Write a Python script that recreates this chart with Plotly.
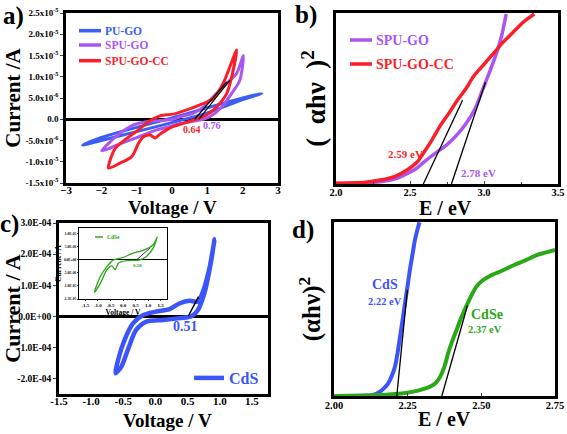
import plotly.graph_objects as go

W, H = 567, 434
FONT = "Liberation Serif, Times New Roman, Times, serif"

# ---------------- data ----------------
# Panel a (current in 1e-6 A)
pu_go_v = [-2.53, -2.0, -1.0, 0.0, 1.0, 2.0, 2.54, 2.0, 1.0, 0.0, -1.0, -2.0, -2.53]
pu_go_i = [-6.1, -5.0, -2.9, -0.8, 1.5, 4.6, 6.1, 5.0, 2.7, 0.3, -1.9, -4.3, -6.1]

spu_go_v = [-1.99, -1.85, -1.57, -1.19, -0.81, -0.43, -0.06, 0.23, 0.79, 1.07, 1.41, 1.69, 1.92, 2.02,
            1.83, 1.55, 1.26, 0.89, 0.60, 0.23, 0.04, -0.34, -0.72, -1.09, -1.47, -1.75, -1.99]
spu_go_i = [-7.4, -7.1, -6.1, -4.9, -3.7, -2.5, -1.7, -1.0, -0.2, 0.6, 2.9, 6.1, 9.2, 15.0,
            10.8, 8.5, 6.1, 2.9, 1.4, 0.6, 0.0, -0.3, -0.6, -1.35, -3.3, -5.3, -7.4]

spu_go_cc_v = [-1.80, -1.47, -1.14, -0.95, -0.81, -0.62, -0.48, -0.34, -0.15, 0.04, 0.17, 0.60, 0.98,
               1.26, 1.55, 1.69, 1.83, 1.64, 1.45, 1.17, 0.79, 0.42, 0.04, -0.34, -0.67, -0.95,
               -1.28, -1.61, -1.75, -1.80]
spu_go_cc_i = [-11.5, -10.3, -8.8, -5.7, -4.1, -3.7, -4.4, -3.5, -2.5, -1.7, -1.35, -0.2, 1.0,
               2.9, 6.1, 10.0, 16.3, 12.4, 8.5, 4.9, 3.4, 2.2, 1.2, 0.8, -0.6, -2.5,
               -4.5, -6.9, -9.6, -11.5]

tan_a_cc_v, tan_a_cc_i = [0.64, 1.55], [0.0, 8.8]
tan_a_go_v, tan_a_go_i = [0.76, 1.64], [0.0, 9.2]

a_yticks = [2.5e-5, 2.0e-5, 1.5e-5, 1.0e-5, 5.0e-6, 0.0, -5.0e-6, -1.0e-5, -1.5e-5]
a_yticktext = ["2.5x10<sup>-5</sup>", "2.0x10<sup>-5</sup>", "1.5x10<sup>-5</sup>", "1.0x10<sup>-5</sup>",
               "5.0x10<sup>-6</sup>", "0.0", "-5.0x10<sup>-6</sup>", "-1.0x10<sup>-5</sup>",
               "-1.5x10<sup>-5</sup>"]

# Panel b (arbitrary units)
b_go_e = [2.0, 2.2, 2.3, 2.4, 2.48, 2.55, 2.61, 2.68, 2.75, 2.82, 2.88, 2.94, 2.99, 3.04, 3.09, 3.12, 3.15]
b_go_y = [0.003, 0.008, 0.013, 0.03, 0.06, 0.095, 0.14, 0.185, 0.23, 0.29, 0.355, 0.44, 0.55, 0.66,
          0.78, 0.87, 0.994]
b_cc_e = [2.0, 2.2, 2.3, 2.4, 2.48, 2.55, 2.59, 2.65, 2.70, 2.76, 2.82, 2.88, 2.93, 3.0, 3.06, 3.13,
          3.2, 3.27, 3.34]
b_cc_y = [0.004, 0.01, 0.023, 0.045, 0.082, 0.13, 0.18, 0.26, 0.335, 0.41, 0.49, 0.56, 0.63, 0.70,
          0.76, 0.83, 0.89, 0.95, 0.994]
tan_b_cc_e, tan_b_cc_y = [2.59, 2.855], [0.0, 0.49]
tan_b_go_e, tan_b_go_y = [2.78, 3.01], [0.0, 0.595]

# Panel c (current in 1e-4 A)
cds_v = [-0.62, -0.53, -0.43, -0.30, -0.14, 0.12, 0.38, 0.56, 0.66, 0.76, 0.84, 0.92,
         0.84, 0.74, 0.66, 0.53, 0.38, 0.22, 0.01, -0.19, -0.35, -0.48, -0.58, -0.62]
cds_i = [-1.83, -1.62, -1.08, -0.44, -0.17, -0.12, -0.06, 0.0, 0.2, 0.74, 1.49, 2.48,
         1.55, 0.80, 0.47, 0.50, 0.42, 0.23, 0.15, 0.04, -0.23, -0.76, -1.4, -1.83]
tan_c_v, tan_c_i = [0.51, 0.67], [0.0, 0.63]
c_yticks = [3e-4, 2e-4, 1e-4, 0.0, -1e-4, -2e-4]
c_yticktext = ["3.0E-04", "2.0E-04", "1.0E-04", "0.0E+00", "-1.0E-04", "-2.0E-04"]

# Inset (current in 1e-6 A)
cdse_v = [-1.14, -0.9, -0.64, -0.38, -0.11, 0.02, 0.41, 0.80, 1.2, 1.36,
          1.2, 0.93, 0.67, 0.14, -0.19, -0.31, -0.44, -0.64, -0.9, -1.14]
cdse_i = [-12.5, -6.4, -2.6, 0.0, 0.64, 1.0, 2.6, 3.6, 5.8, 8.7,
          4.5, 1.3, 0.0, -0.3, -1.3, -3.8, -2.3, -3.8, -9.0, -12.5]
tan_in_v, tan_in_i = [0.54, 1.07], [0.0, 4.5]
in_yticks = [1.0e-5, 5.0e-6, 0.0, -5.0e-6, -1.0e-5, -1.5e-5]
in_yticktext = ["1.0E-05", "5.0E-06", "0.0E+00", "-5.0E-06", "-1.0E-05", "-1.5E-05"]

# Panel d (arbitrary units)
d_cds_e = [2.0, 2.1, 2.133, 2.156, 2.17, 2.184, 2.196, 2.207, 2.216, 2.224, 2.233, 2.241, 2.25,
           2.258, 2.267, 2.275, 2.283, 2.29]
d_cds_y = [0.0, 0.002, 0.006, 0.025, 0.045, 0.073, 0.115, 0.17, 0.25, 0.34, 0.44, 0.535, 0.635,
           0.73, 0.82, 0.9, 0.955, 0.998]
d_cdse_e = [2.0, 2.1, 2.156, 2.22, 2.269, 2.30, 2.326, 2.345, 2.36, 2.375, 2.388, 2.40, 2.416,
            2.433, 2.45, 2.467, 2.484, 2.505, 2.529, 2.57, 2.608, 2.65, 2.688, 2.72, 2.75]
d_cdse_y = [0.0, 0.003, 0.006, 0.013, 0.025, 0.038, 0.054, 0.075, 0.11, 0.17, 0.25, 0.31, 0.38,
            0.455, 0.52, 0.58, 0.63, 0.665, 0.69, 0.72, 0.75, 0.78, 0.81, 0.825, 0.84]
tan_d_cds_e, tan_d_cds_y = [2.213, 2.249], [0.0, 0.61]
tan_d_cdse_e, tan_d_cdse_y = [2.366, 2.453], [0.0, 0.52]

# ---------------- colours ----------------
BLUE = "#3a5ff2"
PURPLE = "#aa55f2"
RED = "#fa1e28"
GREEN = "#2aa818"
CBLUE = "#3c55fa"

def px2x(p):
    return p / W

def py2y(p):
    return 1 - p / H

fig = go.Figure()

def curve(x, y, color, width, name=None, xa="x", ya="y", legend=None, spline=True):
    fig.add_trace(go.Scatter(
        x=x, y=y, mode="lines", name=name,
        line=dict(color=color, width=width, shape="spline" if spline else "linear", smoothing=0.8),
        xaxis=xa, yaxis=ya, showlegend=legend is not None,
        legend=legend if legend else "legend", hoverinfo="skip"))

# panel a
curve(pu_go_v, [v * 1e-6 for v in pu_go_i], BLUE, 3, "PU-GO", "x", "y")
curve(spu_go_v, [v * 1e-6 for v in spu_go_i], PURPLE, 3, "SPU-GO", "x", "y")
curve(spu_go_cc_v, [v * 1e-6 for v in spu_go_cc_i], RED, 3, "SPU-GO-CC", "x", "y")
curve(tan_a_cc_v, [v * 1e-6 for v in tan_a_cc_i], "black", 1.2, None, "x", "y", spline=False)
curve(tan_a_go_v, [v * 1e-6 for v in tan_a_go_i], "black", 1.2, None, "x", "y", spline=False)

# panel b
curve(b_go_e, b_go_y, PURPLE, 3.5, "SPU-GO", "x2", "y2")
curve(b_cc_e, b_cc_y, RED, 3.5, "SPU-GO-CC", "x2", "y2")
curve(tan_b_cc_e, tan_b_cc_y, "black", 1.3, None, "x2", "y2", spline=False)
curve(tan_b_go_e, tan_b_go_y, "black", 1.3, None, "x2", "y2", spline=False)

# panel c
curve(cds_v, [v * 1e-4 for v in cds_i], CBLUE, 4.5, "<span style='color:%s'>CdS</span>" % CBLUE,
      "x3", "y3", legend="legend")
curve(tan_c_v, [v * 1e-4 for v in tan_c_i], "black", 1.5, None, "x3", "y3", spline=False)

# inset
curve(cdse_v, [v * 1e-6 for v in cdse_i], GREEN, 1.3, "CdSe", "x5", "y5")
curve(tan_in_v, [v * 1e-6 for v in tan_in_i], "black", 0.8, None, "x5", "y5", spline=False)

# panel d
curve(d_cds_e, d_cds_y, CBLUE, 4, "CdS", "x4", "y4")
curve(d_cdse_e, d_cdse_y, GREEN, 4, "CdSe", "x4", "y4")
curve(tan_d_cds_e, tan_d_cds_y, "black", 1.3, None, "x4", "y4", spline=False)
curve(tan_d_cdse_e, tan_d_cdse_y, "black", 1.3, None, "x4", "y4", spline=False)

def tf(size):
    return dict(family=FONT, size=size, color="black", weight="bold")

box = dict(showline=True, mirror=True, linecolor="black", linewidth=2.5, showgrid=False, automargin=False)

layout = dict(
    width=W, height=H, margin=dict(l=0, r=0, t=0, b=0, autoexpand=False),
    paper_bgcolor="white", plot_bgcolor="white",
    font=dict(family=FONT, color="black"),
    hovermode=False,
    # panel a
    xaxis=dict(domain=[px2x(66), px2x(278)], range=[-3, 3], anchor="y", zeroline=False,
               tickvals=[-3, -2, -1, 0, 1, 2, 3], tickfont=tf(11), ticks="", ticklabelstandoff=-5,
               **box),
    yaxis=dict(domain=[py2y(183), py2y(13)], range=[-1.5e-5, 2.5e-5], anchor="x",
               zeroline=True, zerolinecolor="black", zerolinewidth=3,
               tickvals=a_yticks, ticktext=a_yticktext, tickfont=tf(9), ticks="outside", ticklen=3,
               title=dict(text="Current /A", font=tf(21), standoff=0), **box),
    # panel b
    xaxis2=dict(domain=[px2x(336), px2x(558)], range=[2.0, 3.5], anchor="y2", zeroline=False,
                tickvals=[2.0, 2.5, 3.0, 3.5], ticktext=["2.0", "2.5", "3.0", "3.5"],
                tickfont=tf(10.5), ticks="inside", ticklen=3, ticklabelstandoff=-3,
                minor=dict(tickvals=[2.25, 2.75, 3.25], ticks="inside", ticklen=2), **box),
    yaxis2=dict(domain=[py2y(184), py2y(13)], range=[0, 1.0], anchor="x2", zeroline=False,
                showticklabels=False, ticks="",
                title=dict(text="(  αhν  )<sup>2</sup>", font=tf(27), standoff=0), **box),
    # panel c
    xaxis3=dict(domain=[px2x(59), px2x(268)], range=[-1.5, 1.75], anchor="y3", zeroline=False,
                tickvals=[-1.5, -1.0, -0.5, 0.0, 0.5, 1.0, 1.5],
                ticktext=["-1.5", "-1.0", "-0.5", "0.0", "0.5", "1.0", "1.5"],
                tickfont=tf(11), ticks="", ticklabelstandoff=-5, **box),
    yaxis3=dict(domain=[py2y(394), py2y(223)], range=[-2.5e-4, 3e-4], anchor="x3",
                zeroline=True, zerolinecolor="black", zerolinewidth=3,
                tickvals=c_yticks, ticktext=c_yticktext, tickfont=tf(9.5), ticks="outside", ticklen=3,
                title=dict(text="Current / A", font=tf(22), standoff=0), **box),
    # panel d
    xaxis4=dict(domain=[px2x(334), px2x(555)], range=[2.0, 2.75], anchor="y4", zeroline=False,
                tickvals=[2.0, 2.25, 2.5, 2.75], ticktext=["2.00", "2.25", "2.50", "2.75"],
                tickfont=tf(10.5), ticks="inside", ticklen=3, ticklabelstandoff=-2, **box),
    yaxis4=dict(domain=[py2y(396), py2y(222)], range=[0, 1.0], anchor="x4", zeroline=False,
                showticklabels=False, ticks="",
                title=dict(text="(αhν)<sup>2</sup>", font=tf(25), standoff=4), **box),
    # inset
    xaxis5=dict(domain=[px2x(79), px2x(167)], range=[-1.75, 1.75], anchor="y5", zeroline=False,
                tickvals=[-1.5, -1.0, -0.5, 0.0, 0.5, 1.0, 1.5],
                ticktext=["-1.5", "-1.0", "-0.5", "0.0", "0.5", "1.0", "1.5"],
                tickfont=tf(5), ticks="outside", ticklen=1,
                title=dict(text="Voltage / V", font=tf(7.5), standoff=1), automargin=False,
                showline=True, mirror=True, linecolor="black", linewidth=1.2, showgrid=False),
    yaxis5=dict(domain=[py2y(299), py2y(228)], range=[-1.5e-5, 1.22e-5], anchor="x5",
                zeroline=True, zerolinecolor="black", zerolinewidth=1.2,
                tickvals=in_yticks, ticktext=in_yticktext, tickfont=tf(3.5), ticks="outside", ticklen=1,
                title=dict(text="Current / A", font=tf(7.5), standoff=1), automargin=False,
                showline=True, mirror=True, linecolor="black", linewidth=1.2, showgrid=False),
    legend=dict(x=px2x(189), y=py2y(378), xanchor="left", yanchor="middle", bgcolor="rgba(0,0,0,0)",
                font=dict(family=FONT, size=16, weight="bold"), itemwidth=30),
    showlegend=True,
)
fig.update_layout(**layout)

def ann(text, x, y, size, color="black", xref="paper", yref="paper", xanchor="center", yanchor="middle"):
    fig.add_annotation(text=text, x=x, y=y, xref=xref, yref=yref, showarrow=False,
                       font=dict(family=FONT, size=size, color=color, weight="bold"),
                       xanchor=xanchor, yanchor=yanchor)

def key(x0, x1, y, color, width, text, size):
    fig.add_shape(type="line", xref="paper", yref="paper", x0=px2x(x0), x1=px2x(x1),
                  y0=py2y(y), y1=py2y(y), line=dict(color=color, width=width))
    ann(text, px2x(x1 + 2), py2y(y), size, color, xanchor="left")

# legends drawn as keys
key(79, 101, 30.7, BLUE, 3.5, "PU-GO", 11.5)
key(79, 101, 45.0, PURPLE, 3.5, "SPU-GO", 11.5)
key(79, 101, 60.7, RED, 3.5, "SPU-GO-CC", 11.5)
key(350, 372, 40, PURPLE, 3.5, "SPU-GO", 14)
key(350, 372, 64, RED, 3.5, "SPU-GO-CC", 14)
key(95, 103, 237, GREEN, 1.5, "CdSe", 5.5)

# x-axis titles
ann("Voltage / V", px2x(172), py2y(208), 19)
ann("E / eV", px2x(445), py2y(208), 20)
ann("Voltage / V", px2x(167), py2y(420), 19)
ann("E / eV", px2x(444), py2y(419), 20)

# panel letters
ann("a)", px2x(13), py2y(16), 25)
ann("b)", px2x(306), py2y(15), 25)
ann("c)", px2x(9), py2y(224), 25)
ann("d)", px2x(303), py2y(230), 25)

# value labels
ann("0.64", 0.56, -2.3e-6, 10, RED, "x", "y")
ann("0.76", 1.12, -1.5e-6, 10, PURPLE, "x", "y")
ann("2.59 eV", 2.47, 0.175, 11, RED, "x2", "y2")
ann("2.78 eV", 2.96, 0.064, 11, PURPLE, "x2", "y2")
ann("0.51", 0.47, -0.33e-4, 14, CBLUE, "x3", "y3")
ann("0.58", 0.57, -2.1e-6, 5, GREEN, "x5", "y5")
ann("CdS", 2.173, 0.64, 14, CBLUE, "x4", "y4")
ann("2.22 eV", 2.173, 0.545, 10.5, CBLUE, "x4", "y4")
ann("CdSe", 2.518, 0.47, 14, GREEN, "x4", "y4")
ann("2.37 eV", 2.512, 0.38, 10.5, GREEN, "x4", "y4")

fig.write_html("out.html", config={"displayModeBar": False},
               post_script="document.body.style.margin='0px';")
